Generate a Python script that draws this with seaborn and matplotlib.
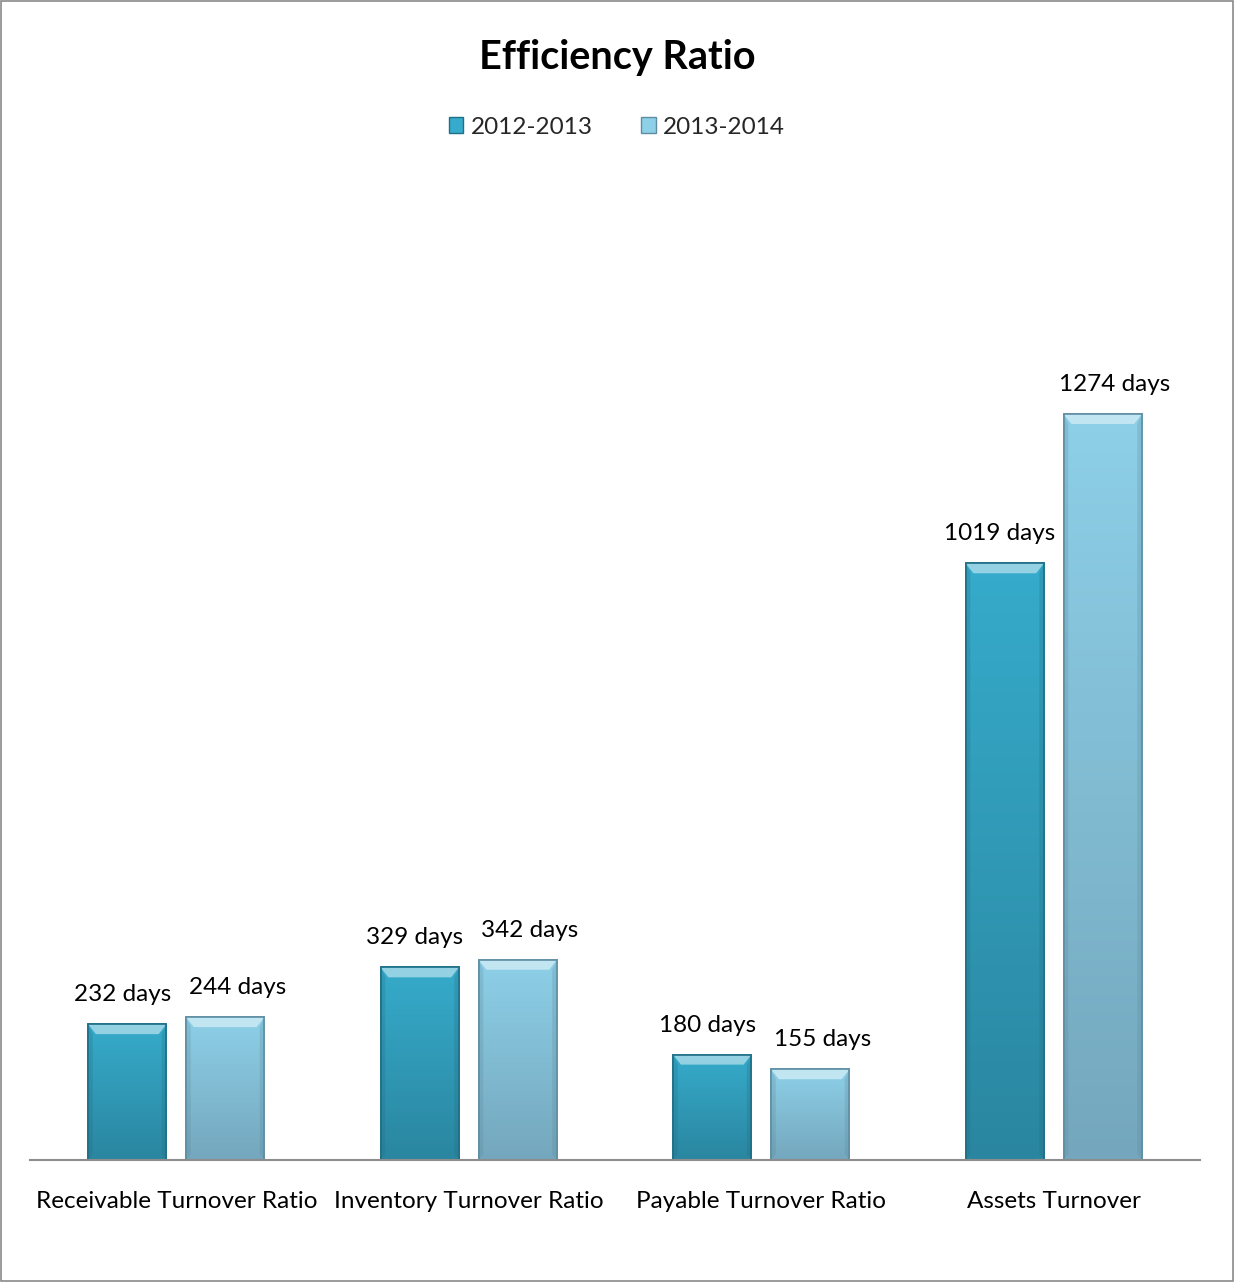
import numpy as np
import pandas as pd
import matplotlib
matplotlib.use("Agg")
import matplotlib.pyplot as plt
import seaborn as sns
from matplotlib.patches import Polygon, Rectangle
from matplotlib.colors import to_rgb

categories = ["Receivable Turnover Ratio", "Inventory Turnover Ratio",
              "Payable Turnover Ratio", "Assets Turnover"]
series = ["2012-2013", "2013-2014"]
values_2012 = [232, 329, 180, 1019]
values_2013 = [244, 342, 155, 1274]
title = "Efficiency Ratio"

df = pd.DataFrame({
    "category": categories * 2,
    "period": [series[0]] * 4 + [series[1]] * 4,
    "days": values_2012 + values_2013,
})

top_colors = {"2012-2013": "#36abcb", "2013-2014": "#8dd0e8"}
bot_colors = {"2012-2013": "#2a86a0", "2013-2014": "#74a7bd"}
edge_colors = {"2012-2013": "#1f6f86", "2013-2014": "#5f8ea3"}
label_shift = {"2012-2013": -5, "2013-2014": 12}  # px, to keep labels apart

sns.set_theme(style="white")
plt.rcParams['font.family'] = ['Lato', 'DejaVu Sans']

FS = 17.5
W, H = 1234, 1282
fig = plt.figure(figsize=(W / 100, H / 100), dpi=100)
ax = fig.add_axes([30 / W, 1 - 1160 / H, 1170 / W, 980 / H])

sns.barplot(data=df, x="category", y="days", hue="period", order=categories,
            hue_order=series, palette=top_colors, width=0.67, gap=0.2,
            ax=ax, legend=False, saturation=1)

ax.set_ylim(0, 980 / 0.5856)
ax.set_xlim(-0.5, 3.5)
ax.set_xlabel("")
ax.set_ylabel("")
ax.set_yticks([])
for s in ["top", "right", "left"]:
    ax.spines[s].set_visible(False)
ax.spines["bottom"].set_color("#8c8c8c")
ax.spines["bottom"].set_linewidth(1.5)
ax.tick_params(axis="x", length=0, pad=22, labelsize=FS, labelcolor="black")

for container, name in zip(ax.containers, series):
    t = np.array(to_rgb(top_colors[name]))
    b = np.array(to_rgb(bot_colors[name]))
    for bar, val in zip(container, container.datavalues):
        x0, y0 = bar.get_x(), bar.get_y()
        w, h = bar.get_width(), bar.get_height()
        grad = np.linspace(0, 1, 256)[:, None, None]
        img = t[None, None, :] * (1 - grad) + b[None, None, :] * grad
        im = ax.imshow(img, extent=[x0, x0 + w, y0, y0 + h], origin="upper",
                       aspect="auto", zorder=bar.get_zorder() + 0.1)
        im.set_clip_path(bar)
        bar.set_edgecolor(edge_colors[name])
        bar.set_linewidth(1.2)
        dx = w * 0.1
        dy = 10 / 0.5856
        light = np.clip(t * 0.45 + 0.55, 0, 1)
        topb = Polygon([[x0, y0 + h], [x0 + w, y0 + h], [x0 + w - dx, y0 + h - dy],
                        [x0 + dx, y0 + h - dy]], closed=True, facecolor=light,
                       edgecolor="none", alpha=0.85, zorder=bar.get_zorder() + 0.2)
        ax.add_patch(topb)
        dark = b * 0.8
        for pts in ([[x0, y0], [x0 + dx * 0.6, y0 + dy * 0.6], [x0 + dx * 0.6, y0 + h - dy],
                     [x0, y0 + h]],
                    [[x0 + w, y0], [x0 + w - dx * 0.6, y0 + dy * 0.6],
                     [x0 + w - dx * 0.6, y0 + h - dy], [x0 + w, y0 + h]]):
            ax.add_patch(Polygon(pts, closed=True, facecolor=dark, edgecolor="none",
                                 alpha=0.25, zorder=bar.get_zorder() + 0.2))
        ax.add_patch(Rectangle((x0, y0), w, h, facecolor="none",
                               edgecolor=edge_colors[name], linewidth=1.2,
                               zorder=bar.get_zorder() + 0.3))
        ax.annotate(f"{int(val)} days", xy=(x0 + w / 2, y0 + h),
                    xytext=(label_shift[name], 19), textcoords="offset pixels",
                    ha="center", va="bottom", fontsize=FS, color="black")

fig.text(0.5, 1 - 57 / H, title, ha="center", va="center", fontsize=28.5,
         fontweight="bold", color="black")

handles = [Rectangle((0, 0), 1, 1, facecolor=top_colors[s], edgecolor=edge_colors[s])
           for s in series]
fig.legend(handles, series, loc="center", bbox_to_anchor=(0.5, 1 - 127 / H),
           ncol=2, frameon=False, fontsize=FS, handlelength=0.6, handleheight=0.6,
           handletextpad=0.3, columnspacing=2.0)

fig.patches.append(Rectangle((1 / W, 1 / H), 1 - 2 / W, 1 - 2 / H,
                             transform=fig.transFigure, fill=False,
                             edgecolor="#8a8a8a", linewidth=1.2))

fig.savefig("out.png", dpi=100, facecolor="white")
